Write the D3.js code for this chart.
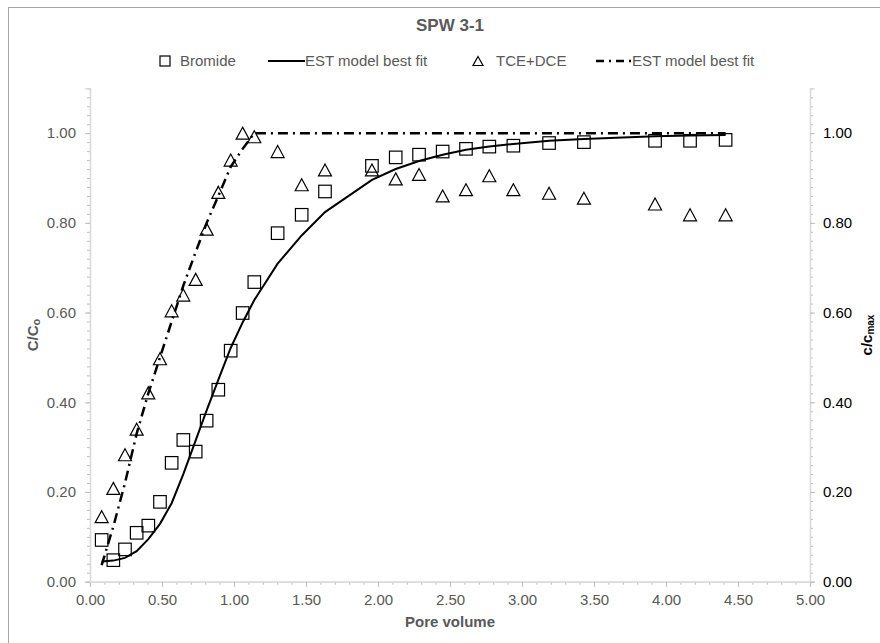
<!DOCTYPE html>
<html>
<head>
<meta charset="utf-8">
<script src="https://cdn.jsdelivr.net/npm/d3@7"></script>
<style>
  body { margin: 0; background: #fff; }
  svg text { font-family: "Liberation Sans", Arial, sans-serif; }
</style>
</head>
<body>
<div id="chart"></div>
<script>
// pore volume (x) shared by all series
const poreVolume = [0.081, 0.162, 0.243, 0.324, 0.405, 0.486, 0.567, 0.648, 0.734, 0.810,
  0.891, 0.977, 1.060, 1.141, 1.303, 1.470, 1.632, 1.958, 2.123, 2.285,
  2.449, 2.611, 2.773, 2.940, 3.188, 3.430, 3.924, 4.167, 4.414];

// measured C/Co
const bromide = [0.093, 0.048, 0.072, 0.109, 0.125, 0.178, 0.265, 0.316, 0.290, 0.359,
  0.428, 0.515, 0.599, 0.668, 0.777, 0.818, 0.870, 0.927, 0.946, 0.952,
  0.959, 0.965, 0.970, 0.972, 0.978, 0.980, 0.983, 0.983, 0.985];

const bromideFit = [0.045, 0.047, 0.053, 0.068, 0.095, 0.129, 0.175, 0.240, 0.315, 0.382,
  0.450, 0.521, 0.578, 0.628, 0.709, 0.772, 0.824, 0.896, 0.920, 0.938,
  0.952, 0.963, 0.970, 0.976, 0.983, 0.987, 0.993, 0.995, 0.996];

// measured c/cmax
const tceDce = [0.145, 0.208, 0.283, 0.340, 0.421, 0.497, 0.604, 0.639, 0.674, 0.786,
  0.868, 0.940, 1.000, 0.992, 0.959, 0.885, 0.918, 0.918, 0.898, 0.908,
  0.860, 0.874, 0.905, 0.874, 0.866, 0.855, 0.842, 0.818, 0.818];

const tceDceFit = [0.037, 0.123, 0.220, 0.330, 0.420, 0.500, 0.580, 0.660, 0.735, 0.800,
  0.860, 0.925, 0.965, 1.000, 1.000, 1.000, 1.000, 1.000, 1.000, 1.000,
  1.000, 1.000, 1.000, 1.000, 1.000, 1.000, 1.000, 1.000, 1.000];

const xTicks = [0, 0.5, 1, 1.5, 2, 2.5, 3, 3.5, 4, 4.5, 5];
const yTicks = [0, 0.2, 0.4, 0.6, 0.8, 1.0];

const width = 880;
const height = 643;
const margin = { top: 88.3, right: 70, bottom: 61.3, left: 90 };

const svg = d3.select("#chart").append("svg")
  .attr("width", width)
  .attr("height", height);

// chart frame
svg.append("rect")
  .attr("x", 8.5).attr("y", 7.5)
  .attr("width", 900).attr("height", 700)
  .attr("fill", "none")
  .attr("stroke", "#a6a6a6")
  .attr("stroke-width", 1);

const x = d3.scaleLinear().domain([0, 5]).range([margin.left, width - margin.right]);
const y = d3.scaleLinear().domain([0, 1.1]).range([height - margin.bottom, margin.top]);

const fmt = d3.format(".2f");

// minor ticks
const xMinor = d3.range(0, 51).map(i => i / 10);
const yMinor = d3.range(0, 56).map(i => i / 50);

function styleAxis(g, labelColor) {
  g.select(".domain").attr("stroke", "#d9d9d9").attr("stroke-width", 1.3);
  g.selectAll(".tick line").attr("stroke", "#bfbfbf");
  g.selectAll(".tick text")
    .attr("fill", labelColor)
    .style("font-size", "15px");
}

// x axis
svg.append("g")
  .attr("transform", `translate(0,${y(0)})`)
  .call(d3.axisBottom(x).tickValues(xMinor).tickSize(3).tickFormat(""))
  .call(g => styleAxis(g, "#595959"));
svg.append("g")
  .attr("transform", `translate(0,${y(0)})`)
  .call(d3.axisBottom(x).tickValues(xTicks).tickSize(5).tickPadding(8).tickFormat(fmt))
  .call(g => styleAxis(g, "#595959"));

// left y axis
svg.append("g")
  .attr("transform", `translate(${x(0)},0)`)
  .call(d3.axisLeft(y).tickValues(yMinor).tickSize(3).tickFormat(""))
  .call(g => styleAxis(g, "#595959"));
svg.append("g")
  .attr("transform", `translate(${x(0)},0)`)
  .call(d3.axisLeft(y).tickValues(yTicks).tickSize(5).tickPadding(9).tickFormat(fmt))
  .call(g => styleAxis(g, "#595959"));

// right y axis
svg.append("g")
  .attr("transform", `translate(${x(5)},0)`)
  .call(d3.axisRight(y).tickValues(yMinor).tickSize(3).tickFormat(""))
  .call(g => styleAxis(g, "#000"));
svg.append("g")
  .attr("transform", `translate(${x(5)},0)`)
  .call(d3.axisRight(y).tickValues(yTicks).tickSize(5).tickPadding(8).tickFormat(fmt))
  .call(g => styleAxis(g, "#000"));

// title
svg.append("text")
  .attr("x", 450).attr("y", 31)
  .attr("text-anchor", "middle")
  .attr("fill", "#595959")
  .style("font-size", "17px")
  .style("font-weight", "bold")
  .text("SPW 3-1");

// axis titles
svg.append("text")
  .attr("x", 450).attr("y", 627)
  .attr("text-anchor", "middle")
  .attr("fill", "#595959")
  .style("font-size", "15px")
  .style("font-weight", "bold")
  .text("Pore volume");

const yl = svg.append("text")
  .attr("transform", "translate(37.5,335) rotate(-90)")
  .attr("text-anchor", "middle")
  .attr("fill", "#595959")
  .style("font-size", "15px")
  .style("font-weight", "bold");
yl.append("tspan").text("C/C");
yl.append("tspan").attr("dy", 2).style("font-size", "11px").text("o");

const yr = svg.append("text")
  .attr("transform", "translate(872,335) rotate(-90)")
  .attr("text-anchor", "middle")
  .attr("fill", "#000")
  .style("font-size", "15px")
  .style("font-weight", "bold");
yr.append("tspan").text("c/c");
yr.append("tspan").attr("dy", 2).style("font-size", "10px").text("max");

// lines
const bromidePts = poreVolume.map((v, i) => [v, bromideFit[i]]);
const tcePts = poreVolume.map((v, i) => [v, tceDceFit[i]]);
const line = d3.line().x(d => x(d[0])).y(d => y(d[1]));

svg.append("path")
  .attr("d", line(tcePts))
  .attr("fill", "none")
  .attr("stroke", "#000")
  .attr("stroke-width", 2.5)
  .attr("stroke-dasharray", "10,5,2,5");

svg.append("path")
  .attr("d", line(bromidePts))
  .attr("fill", "none")
  .attr("stroke", "#000")
  .attr("stroke-width", 2);

// markers
const sq = 12.5;
svg.append("g").selectAll("rect")
  .data(poreVolume.map((v, i) => [v, bromide[i]]))
  .join("rect")
  .attr("x", d => x(d[0]) - sq / 2)
  .attr("y", d => y(d[1]) - sq / 2)
  .attr("width", sq).attr("height", sq)
  .attr("fill", "none")
  .attr("stroke", "#000")
  .attr("stroke-width", 1.2);

function tri(cx, cy, w, h) {
  return `M${cx},${cy - h / 2}L${cx + w / 2},${cy + h / 2}L${cx - w / 2},${cy + h / 2}Z`;
}

svg.append("g").selectAll("path")
  .data(poreVolume.map((v, i) => [v, tceDce[i]]))
  .join("path")
  .attr("d", d => tri(x(d[0]), y(d[1]), 13, 12))
  .attr("fill", "none")
  .attr("stroke", "#000")
  .attr("stroke-width", 1.2);

// legend
const legY = 61;
const leg = svg.append("g");
leg.append("rect")
  .attr("x", 160).attr("y", legY - 5).attr("width", 10).attr("height", 10)
  .attr("fill", "none").attr("stroke", "#000").attr("stroke-width", 1.2);
leg.append("text").attr("x", 180).attr("y", legY + 5).text("Bromide");
leg.append("line")
  .attr("x1", 268).attr("x2", 305).attr("y1", legY).attr("y2", legY)
  .attr("stroke", "#000").attr("stroke-width", 2);
leg.append("text").attr("x", 305).attr("y", legY + 5).text("EST model best fit");
leg.append("path")
  .attr("d", tri(478, legY, 10, 9))
  .attr("fill", "none").attr("stroke", "#000").attr("stroke-width", 1.2);
leg.append("text").attr("x", 496).attr("y", legY + 5).text("TCE+DCE");
leg.append("line")
  .attr("x1", 596).attr("x2", 632).attr("y1", legY).attr("y2", legY)
  .attr("stroke", "#000").attr("stroke-width", 2.5)
  .attr("stroke-dasharray", "8,5,2,5");
leg.append("text").attr("x", 632).attr("y", legY + 5).text("EST model best fit");
leg.selectAll("text")
  .attr("fill", "#595959")
  .style("font-size", "15px");
</script>
</body>
</html>
